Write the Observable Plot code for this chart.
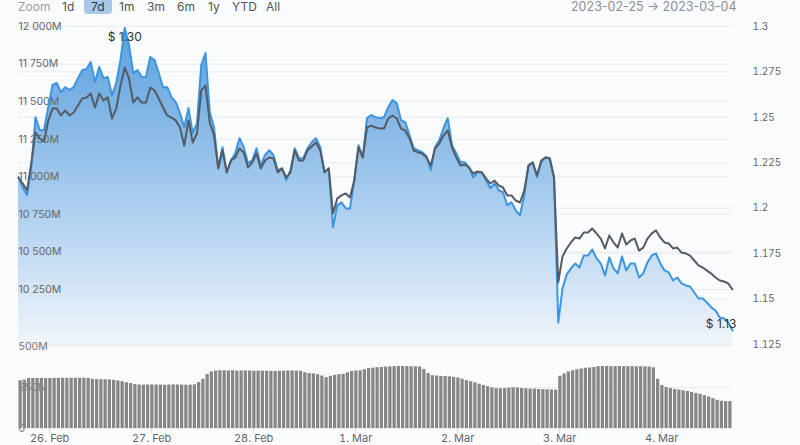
<!DOCTYPE html>
<html><head><meta charset="utf-8">
<script src="https://cdn.jsdelivr.net/npm/d3@7"></script>
<script src="https://cdn.jsdelivr.net/npm/@observablehq/plot@0.6"></script>
<style>
html,body{margin:0;padding:0;background:#fafbfc;}
body{width:800px;height:445px;position:relative;overflow:hidden;font-family:Inter,"Noto Sans",sans-serif;}
#main,#vol{position:absolute;left:0;}
#main{top:0}
#vol{top:338px}
.tb{position:absolute;top:0;font-size:12px;line-height:13px;color:#555;white-space:pre;}
.sel{background:#a7c8e8;border-radius:0 0 4px 4px;color:#333;padding:0 7px;top:0;line-height:14px;}
</style></head><body>
<div id="main"></div><div id="vol"></div>
<div id="toolbar"></div>
<script>
// ---- data (hourly, from 2023-02-25 16:40 UTC) ----
const startTime = "2023-02-25T16:40:00Z";
const price = [1.2170,1.2115,1.2071,1.2225,1.2501,1.2429,1.2429,1.2556,1.2678,1.2689,
1.2639,1.2666,1.2650,1.2666,1.2716,1.2760,1.2766,1.2804,1.2694,1.2777,
1.2716,1.2722,1.2622,1.2689,1.2815,1.2992,1.2898,1.2744,1.2760,1.2722,
1.2722,1.2832,1.2815,1.2744,1.2666,1.2666,1.2611,1.2584,1.2523,1.2446,
1.2551,1.2413,1.2468,1.2788,1.2854,1.2529,1.2446,1.2225,1.2336,1.2198,
1.2264,1.2303,1.2385,1.2336,1.2247,1.2264,1.2330,1.2236,1.2292,1.2319,
1.2292,1.2209,1.2220,1.2154,1.2209,1.2330,1.2275,1.2275,1.2330,1.2363,
1.2385,1.2336,1.2198,1.2220,1.1895,1.2016,1.2032,1.1999,1.1999,1.2154,
1.2347,1.2281,1.2496,1.2512,1.2501,1.2496,1.2501,1.2556,1.2595,1.2578,
1.2485,1.2474,1.2402,1.2330,1.2319,1.2308,1.2286,1.2209,1.2336,1.2374,
1.2440,1.2496,1.2347,1.2303,1.2253,1.2253,1.2225,1.2170,1.2198,1.2198,
1.2154,1.2110,1.2137,1.2099,1.2088,1.2016,1.2032,1.1988,1.1961,1.2071,
1.2236,1.2253,1.2170,1.2253,1.2281,1.2275,1.2170,1.1371,1.1558,1.1636,
1.1669,1.1696,1.1674,1.1740,1.1740,1.1773,1.1724,1.1696,1.1630,1.1729,
1.1669,1.1641,1.1735,1.1658,1.1696,1.1696,1.1619,1.1641,1.1702,1.1740,
1.1751,1.1696,1.1658,1.1647,1.1602,1.1619,1.1586,1.1575,1.1569,1.1536,
1.1503,1.1503,1.1481,1.1454,1.1437,1.1399,1.1393,1.1371,1.1327];
const marketCap = [10995,10955,10909,11088,11295,11255,11235,11375,11454,11454,
11408,11441,11408,11428,11474,11521,11528,11554,11461,11554,
11508,11528,11388,11454,11607,11727,11654,11494,11528,11494,
11494,11594,11574,11521,11461,11408,11394,11375,11328,11208,
11375,11228,11288,11574,11607,11361,11275,11055,11175,11029,
11108,11128,11188,11162,11062,11095,11155,11055,11108,11128,
11122,11029,11055,10995,11029,11175,11108,11108,11175,11202,
11228,11175,11029,11055,10756,10856,10876,10889,10862,10975,
11195,11128,11328,11341,11328,11321,11321,11388,11408,11388,
11321,11308,11255,11175,11162,11155,11128,11075,11188,11221,
11275,11308,11195,11128,11075,11082,11062,11022,11035,11029,
10989,10955,10975,10942,10929,10876,10876,10842,10829,10909,
11075,11095,11009,11108,11128,11122,10995,10297,10470,10523,
10563,10596,10589,10629,10629,10656,10623,10589,10523,10609,
10563,10529,10623,10549,10576,10589,10509,10529,10589,10623,
10643,10596,10563,10556,10523,10529,10496,10490,10476,10443,
10410,10396,10376,10356,10330,10310,10303,10290,10250];
const volume = [291,295,305,305,305,305,305,305,306,306,
306,306,306,306,306,306,306,300,298,297,
297,296,294,290,285,279,274,268,265,264,
265,266,265,265,264,265,266,265,265,264,
265,266,280,300,330,345,350,352,352,351,
352,350,351,351,350,349,350,350,349,348,
348,349,350,351,351,350,349,340,335,333,
328,320,310,318,324,328,330,340,348,351,
352,358,365,368,371,372,374,376,377,378,
378,378,377,376,375,360,335,322,320,318,
317,315,312,308,300,292,285,278,270,262,
255,248,243,242,243,246,248,247,244,242,
240,240,238,237,236,235,234,318,333,345,
352,358,363,367,369,372,377,378,378,377,
377,378,377,377,377,376,377,376,375,370,
300,262,250,244,238,234,230,226,220,214,
208,200,192,182,172,166,164,164];
const zoomButtons = ["1d","7d","1m","3m","6m","1y","YTD","All"];
const selectedZoom = "7d";
const dateRange = ["2023-02-25","2023-03-04"];
const priceTicks = [1.125,1.15,1.175,1.2,1.225,1.25,1.275,1.3];
const capGridTicks = [10000,10250,10500,10750,11000,11250,11500,11750,12000];
const capLabelTicks = [10250,10500,10750,11000,11250,11500,11750,12000];
const volTicks = [0,250,500];
const dayTicks = ["2023-02-26","2023-02-27","2023-02-28","2023-03-01","2023-03-02","2023-03-03","2023-03-04"];
const monthNames = ["Jan","Feb","Mar","Apr","May","Jun","Jul","Aug","Sep","Oct","Nov","Dec"];

// ---- scales / tables ----
const t0 = new Date(startTime);
const times = price.map((_, i) => d3.utcHour.offset(t0, i));
const priceDomain = [1.125, 1.3];
const capDomain = [9884, 12000];
const capToPrice = d3.scaleLinear().domain(capDomain).range(priceDomain);
const rows = price.map((p, i) => ({t: times[i], price: p, cap: marketCap[i], capY: capToPrice(marketCap[i])}));
const volRows = volume.map((v, i) => ({t: times[i], t2: d3.utcHour.offset(times[i], 1), v}));
const xDomain = [times[0], times[times.length - 1]];
const capFmt = d => d3.format(",")(d).replace(/,/g, " ") + "M";
const maxRow = rows.reduce((a, b) => b.price > a.price ? b : a);
const minRow = rows.reduce((a, b) => b.price < a.price ? b : a);
const grid = "#e8ecf1";

const main = Plot.plot({
  width: 800, height: 350,
  marginLeft: 18, marginRight: 68, marginTop: 26, marginBottom: 6,
  style: {background: "transparent", fontFamily: "Inter, sans-serif", fontSize: "10.5px", color: "#666"},
  x: {type: "utc", domain: xDomain, axis: null},
  y: {domain: priceDomain, axis: null},
  marks: [
    Plot.ruleY(capGridTicks, {y: d => capToPrice(d), stroke: grid}),
    Plot.ruleY(priceTicks, {stroke: grid}),
    Plot.areaY(rows, {x: "t", y1: priceDomain[0], y2: "price", fill: "url(#areaGrad)"}),
    Plot.text(capLabelTicks, {frameAnchor: "left", y: d => capToPrice(d), text: capFmt, textAnchor: "start", fill: "#666", fontSize: 10.5}),
    Plot.lineY(rows, {x: "t", y: "price", stroke: "#3d95de", strokeWidth: 2}),
    Plot.lineY(rows, {x: "t", y: "capY", stroke: "#555b64", strokeWidth: 2}),
    Plot.axisY(priceTicks, {anchor: "right", tickSize: 0, tickPadding: 20, tickFormat: d => String(+d.toFixed(3)), fill: "#666", fontSize: 10}),
    Plot.text([maxRow], {x: "t", y: "price", text: d => "$ " + d.price.toFixed(2), dy: 9, fill: "#333", fontSize: 12}),
    Plot.text([minRow], {x: "t", y: "price", text: d => "$ " + d.price.toFixed(2), dy: -6, dx: 4, textAnchor: "end", fill: "#333", fontSize: 12})
  ]
});
// gradient for area
const ns = "http://www.w3.org/2000/svg";
const defs = document.createElementNS(ns, "defs");
defs.innerHTML = '<linearGradient id="areaGrad" gradientUnits="userSpaceOnUse" x1="0" y1="26" x2="0" y2="344">' +
  '<stop offset="0" stop-color="#5a9fdd"/><stop offset="0.55" stop-color="#a9cdee"/><stop offset="1" stop-color="#f0f5fb"/></linearGradient>';
main.insertBefore(defs, main.firstChild);
document.getElementById("main").appendChild(main);

const vol = Plot.plot({
  width: 800, height: 106,
  marginLeft: 18, marginRight: 68, marginTop: 8, marginBottom: 16,
  style: {background: "transparent", fontFamily: "Inter, sans-serif", fontSize: "10.5px", color: "#666"},
  x: {type: "utc", domain: xDomain, axis: null},
  y: {domain: [0, 500], axis: null},
  marks: [
    Plot.ruleY(volTicks, {stroke: grid}),
    Plot.text(volTicks, {frameAnchor: "left", y: d => d, text: d => d === 0 ? "0" : d + "M", textAnchor: "start", fill: "#777", fontSize: 10.5}),
    Plot.rectY(volRows, {x1: "t", x2: "t2", y: "v", fill: "#868686", insetLeft: 0.5, insetRight: 0.5}),
    Plot.axisX(dayTicks.map(d => new Date(d + "T00:00:00Z")), {anchor: "bottom", tickSize: 5, tickPadding: 1, stroke: "#ccd6eb",
      fill: "#666", fontSize: 11, tickFormat: d => d.getUTCDate() + ". " + monthNames[d.getUTCMonth()]})
  ]
});
document.getElementById("vol").appendChild(vol);

// toolbar
const tb = document.getElementById("toolbar");
const addTb = (text, left, cls, color) => {
  const el = document.createElement("div");
  el.className = "tb" + (cls ? " " + cls : "");
  el.style.left = left + "px";
  if (color) el.style.color = color;
  el.textContent = text;
  tb.appendChild(el);
};
addTb("Zoom", 18, "", "#9a9ea6");
const btnLeft = [62, 84, 119, 147, 177, 208, 232, 266];
zoomButtons.forEach((b, i) => addTb(b, btnLeft[i], b === selectedZoom ? "sel" : ""));
const dr = document.createElement("div");
dr.className = "tb";
dr.style.left = "571px"; dr.style.fontSize = "12.5px"; dr.style.color = "#8a8f99";
dr.textContent = dateRange[0] + " \u2192 " + dateRange[1];
tb.appendChild(dr);
</script>
</body></html>
